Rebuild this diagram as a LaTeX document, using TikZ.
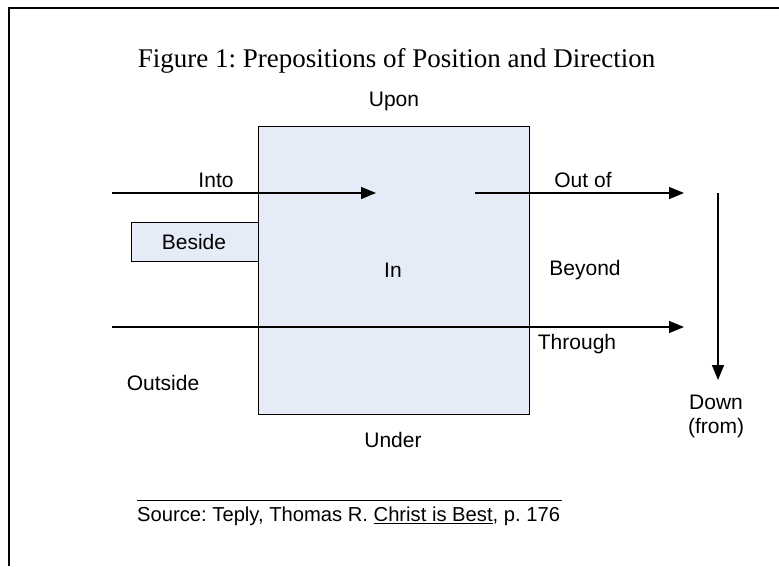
\documentclass[tikz,border=0pt]{standalone}
\usepackage{fontspec}
\setmainfont{Liberation Serif}
\setsansfont{Liberation Sans}
\usetikzlibrary{arrows.meta}
\definecolor{boxfill}{HTML}{E6ECF7}
\frenchspacing
\tikzset{
  lbl/.style={font=\sffamily\fontsize{21}{24}\selectfont, inner sep=0pt, anchor=center},
  arr/.style={draw=black, line width=1.3pt, -{Triangle[length=15pt,width=12pt]}},
  boxstyle/.style={draw=black, line width=0.9pt, fill=boxfill},
  frame/.style={draw=black, line width=2pt}
}
\begin{document}
\begin{tikzpicture}[x=1pt,y=-1pt]
\useasboundingbox (0,0) rectangle (779,566);
% frame
\coordinate (fa) at (8.5,566);
\coordinate (fb) at (8.5,7.5);
\coordinate (fc) at (779,7.5);
\draw[frame] (fa) -- (fb) -- (fc);
% title
\node[font=\fontsize{27}{30}\selectfont, inner sep=0pt] (title) at (396.5,61) {Figure 1: Prepositions of Position and Direction};
% main box
\node[boxstyle, minimum width=271pt, minimum height=288pt, inner sep=0pt] (box) at (393.5,270) {};
\node[boxstyle, minimum width=127pt, minimum height=39pt, inner sep=0pt] (beside) at (194.5,241.5) {};
\node[lbl] (besidetext) at (194,242) {Beside};
% labels
\node[lbl] (upon) at (394,101) {Upon};
\node[lbl] (into) at (216,180) {Into};
\node[lbl] (outof) at (583,180) {Out of};
\node[lbl] (in) at (393,270) {In};
\node[lbl] (beyond) at (585,270) {Beyond};
\node[lbl] (through) at (577,344) {Through};
\node[lbl] (outside) at (163,383) {Outside};
\node[lbl] (under) at (393,440) {Under};
\node[lbl] (down) at (716,402) {Down};
\node[lbl] (from) at (716,428) {(from)};
% arrows
\coordinate (i1) at (112,193);
\coordinate (i2) at (376,193);
\coordinate (o1) at (475,193);
\coordinate (o2) at (684,193);
\coordinate (t1) at (112,327);
\coordinate (t2) at (684,327);
\coordinate (d1) at (718,193);
\coordinate (d2) at (718,380);
\draw[arr] (i1) -- (i2);
\draw[arr] (o1) -- (o2);
\draw[arr] (t1) -- (t2);
\draw[arr] (d1) -- (d2);
% source
\coordinate (s1) at (137,500);
\coordinate (s2) at (562,500);
\draw[line width=0.8pt] (s1) -- (s2);
\node[font=\sffamily\fontsize{20.2}{23}\selectfont, inner sep=0pt, anchor=west] (source) at (137,516) {Source: Teply, Thomas R. \underline{Christ is Best}, p. 176};
\end{tikzpicture}
\end{document}
